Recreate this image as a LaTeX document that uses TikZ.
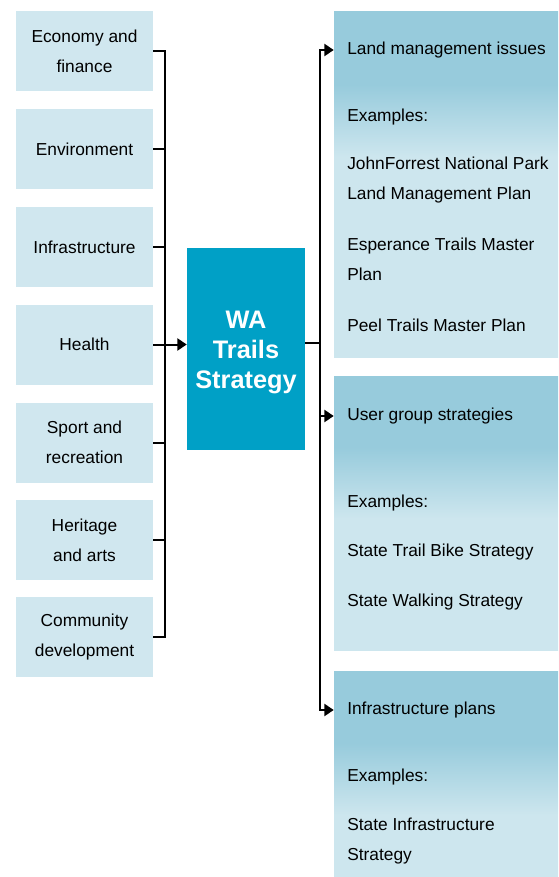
\documentclass[tikz,border=0pt]{standalone}
\usepackage{fontspec}
\setmainfont{Liberation Sans}
\usetikzlibrary{arrows.meta}

\definecolor{sectorblue}{HTML}{D0E7EF}
\definecolor{headblue}{HTML}{97CBDC}
\definecolor{planblue}{HTML}{CDE6EE}
\definecolor{wablue}{HTML}{00A0C6}

% fades of the three plan boxes (the box is mapped on 25bp--75bp)
\pgfdeclareverticalshading{fadeA}{100bp}{color(0bp)=(planblue); color(54bp)=(planblue);
  color(64.5bp)=(headblue); color(100bp)=(headblue)}
\pgfdeclareverticalshading{fadeB}{100bp}{color(0bp)=(planblue); color(49bp)=(planblue);
  color(62bp)=(headblue); color(100bp)=(headblue)}
\pgfdeclareverticalshading{fadeC}{100bp}{color(0bp)=(planblue); color(40bp)=(planblue);
  color(57.5bp)=(headblue); color(100bp)=(headblue)}

\tikzset{
  sector/.style={fill=sectorblue, minimum width=102.75pt, minimum height=60pt,
    align=center, inner sep=0pt, font=\fontsize{13}{22.5}\selectfont},
  core/.style={fill=wablue, text=white, minimum width=88.5pt, minimum height=151.5pt,
    align=center, inner sep=0pt, font=\bfseries\fontsize{19}{22.5}\selectfont},
  plan/.style={shading=#1, minimum width=168pt, inner sep=0pt},
  item/.style={anchor=west, align=left, inner sep=0pt, font=\fontsize{13}{22.5}\selectfont},
  link/.style={line width=1.5pt},
  feed/.style={link, -{Triangle[length=7pt,width=9pt]}}
}

\begin{document}
\begin{tikzpicture}[x=0.75pt,y=-0.75pt]
   \useasboundingbox (0,0) rectangle (558,877);
   % sectors on the left
   \foreach \y/\txt [count=\i] in {51/{Economy and\\finance}, 149/Environment,
       247/Infrastructure, 344.5/Health, 442.5/{Sport and\\recreation},
       540/{Heritage\\and arts}, 637/{Community\\development}}
     \node[sector] (sector\i) at (84.5,\y) {\txt};
   \node[core] (wa) at (246,349) {\rule{0pt}{18.2pt}WA\\Trails\\Strategy};
   % plans on the right
   \node[plan=fadeA, minimum height=258.75pt] (plan1) at (446,184.5) {};
   \node[plan=fadeB, minimum height=205.5pt] (plan2) at (446,513) {};
   \node[plan=fadeC, minimum height=154.5pt] (plan3) at (446,774) {};
   \node[item] (land) at (347,50) {Land management issues};
   \node[item] (ex1) at (347,117) {Examples:};
   \node[item] (jf) at (347,180.5) {JohnForrest National Park\\Land Management Plan};
   \node[item] (esp) at (347,259) {Esperance Trails Master\\Plan};
   \node[item] (peel) at (347,325) {Peel Trails Master Plan};
   \node[item] (user) at (347,416) {User group strategies};
   \node[item] (ex2) at (347,503) {Examples:};
   \node[item] (bike) at (347,552) {State Trail Bike Strategy};
   \node[item] (walk) at (347,602) {State Walking Strategy};
   \node[item] (infra) at (347,710) {Infrastructure plans};
   \node[item] (ex3) at (347,777) {Examples:};
   \node[item] (sis) at (347,841.5) {State Infrastructure\\Strategy};
   % connectors
   \coordinate (busL) at (165,0);
   \coordinate (busR) at (320,0);
   \draw[link] (sector1.east) -- (sector1.east -| busL) -- (sector7.east -| busL) -- (sector7.east);
   \foreach \i in {2,3,5,6}
     \draw[link] (sector\i.east) -- (sector\i.east -| busL);
   \draw[feed] (sector4.east) -- (sector4.east -| wa.west);
   \draw[link] ([yshift=4.5pt]wa.east) -- ([yshift=4.5pt]wa.east -| busR);
   \draw[feed] (infra.west -| busR) -- (land.west -| busR) -- (land.west -| plan1.west);
   \draw[feed] (land.west -| busR) -- (infra.west -| busR) -- (infra.west -| plan3.west);
   \draw[feed] (user.west -| busR) -- (user.west -| plan2.west);
\end{tikzpicture}
\end{document}
